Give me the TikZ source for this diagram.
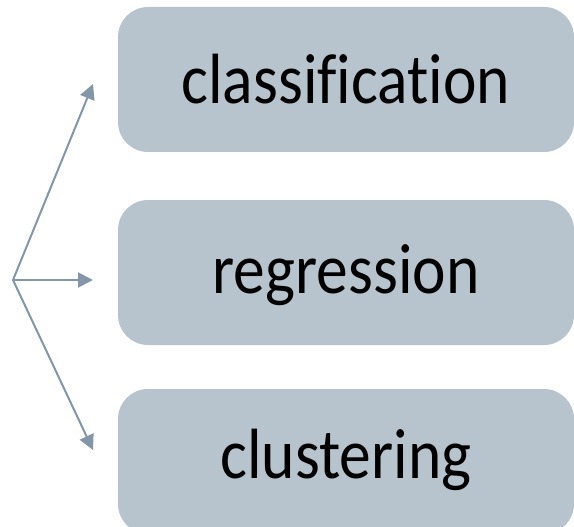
\documentclass[tikz,border=0pt]{standalone}
\usepackage{fontspec}
\setmainfont{Carlito}[Ligatures={NoCommon}]
\usetikzlibrary{arrows.meta}
\definecolor{boxfill}{HTML}{B7C3CD}
\definecolor{arrowcol}{HTML}{8497A8}
\newcommand{\tall}[1]{\scalebox{1}[1.12]{#1}}
\begin{document}
\begin{tikzpicture}[x=1pt, y=-1pt, task/.style = {fill=boxfill, rounded corners=30pt, minimum width=456pt, minimum height=145pt, inner sep=0pt, text height=50pt, font=\fontsize{63.5}{70}\selectfont}, link/.style = {draw=arrowcol, line width=2pt, -{Triangle[length=15pt,width=15pt]}}]

		\clip (0,0) rectangle (574,527);

		\node[task, text depth=3pt] (cls) at (346,79.5) {\tall{classification}};
		\node[task, text depth=9pt] (reg) at (346,272.5) {\tall{regression}};
		\node[task, text depth=17pt] (clu) at (346,461.5) {\tall{clustering}};

		\coordinate (src) at (13,280);
		\coordinate (t1) at (93,84);
		\coordinate (t2) at (93,280);
		\coordinate (t3) at (93,450);

		\draw[link] (src) -- (t1);
		\draw[link] (src) -- (t2);
		\draw[link] (src) -- (t3);
	\end{tikzpicture}
\end{document}
